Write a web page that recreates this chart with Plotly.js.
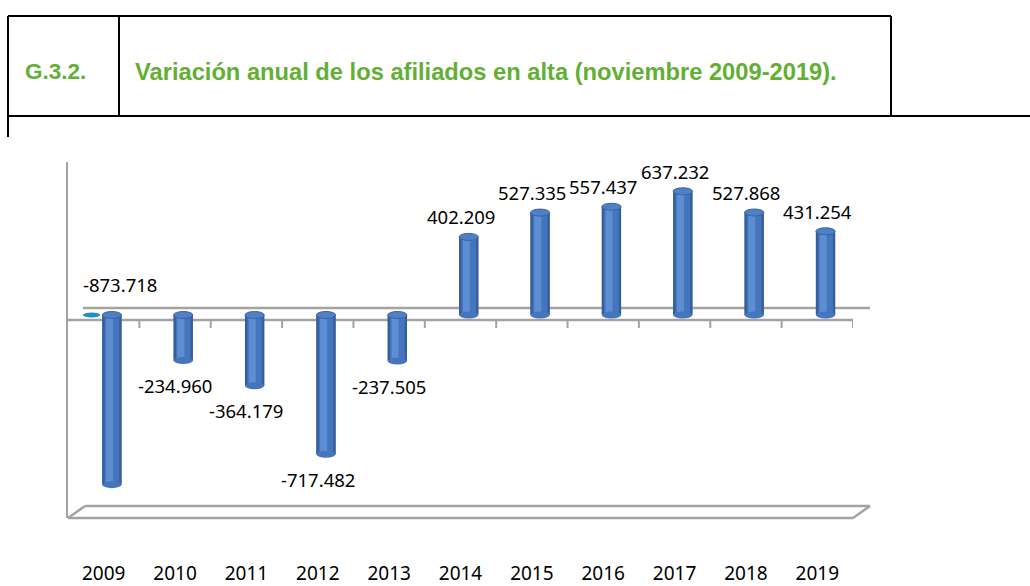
<!DOCTYPE html>
<html>
<head>
<meta charset="utf-8">
<script src="https://cdn.plot.ly/plotly-3.0.1.min.js"></script>
<style>
  html, body { margin: 0; padding: 0; background: #ffffff; }
  #chart { width: 1030px; height: 586px; }
</style>
</head>
<body>
<div id="chart"></div>
<script>
// ---- data ----
const years = ['2009','2010','2011','2012','2013','2014','2015','2016','2017','2018','2019'];
const variacion = [-873718, -234960, -364179, -717482, -237505, 402209, 527335, 557437, 637232, 527868, 431254];
const chartCode = 'G.3.2.';
const chartTitle = 'Variación anual de los afiliados en alta (noviembre 2009-2019).';

// ---- layout geometry (pixels) ----
const W = 1030, H = 586;
const X0 = 68, X1 = 853, Y0 = 162, Y1 = 518;
const yMax = 787950, yMin = -1045450;
const px = p => (p - X0) / (X1 - X0);
const py = p => (Y1 - p) / (Y1 - Y0);
const zeroPx = Y0 + (yMax / (yMax - yMin)) * (Y1 - Y0);

const xs = years.map((_, i) => i);
const barW = 0.27, barOff = -0.02;       // bar drawn slightly "behind" the front axis (3D depth)
const barCenter = i => i + barOff + barW / 2;

const baseCol = '#4576BC', hiCol = '#5D8ED4', edgeCol = '#365E9E', capCol = '#4F80C6', capLine = '#3A63A3';
const frameCol = '#A3A3A3';

const traces = [
  { type: 'bar', x: xs, y: variacion, width: barW, offset: barOff,
    marker: { color: baseCol, line: { width: 0 } }, hoverinfo: 'skip', showlegend: false },
  { type: 'bar', x: xs, y: variacion, width: barW * 0.12, offset: barOff,
    marker: { color: edgeCol, line: { width: 0 } }, hoverinfo: 'skip', showlegend: false },
  { type: 'bar', x: xs, y: variacion, width: barW * 0.36, offset: barOff + barW * 0.2,
    marker: { color: hiCol, line: { width: 0 } }, hoverinfo: 'skip', showlegend: false },
  { type: 'bar', x: xs, y: variacion, width: barW * 0.12, offset: barOff + barW * 0.88,
    marker: { color: edgeCol, line: { width: 0 } }, hoverinfo: 'skip', showlegend: false }
];

const shapes = [];
const line = (x0, y0, x1, y1, col, w) => shapes.push({
  type: 'line', xref: 'paper', yref: 'paper', x0: px(x0), y0: py(y0), x1: px(x1), y1: py(y1),
  line: { color: col, width: w }, layer: 'below' });

// 3D frame: back wall baseline, floor
line(83, zeroPx - 7, 870, zeroPx - 7, frameCol, 2.5);
line(68, 518, 853, 518, frameCol, 2.5);
line(85, 506, 870, 506, frameCol, 2.5);
line(68, 518, 85, 506, frameCol, 2.5);
line(853, 518, 870, 506, frameCol, 2.5);
// front category axis with ticks at boundaries
line(68, zeroPx + 5, 853, zeroPx + 5, frameCol, 2.5);
for (let k = 1; k <= years.length; k++) {
  shapes.push({ type: 'line', xref: 'x', yref: 'paper', x0: k - 0.5, x1: k - 0.5,
    y0: py(zeroPx + 5), y1: py(zeroPx + 13), line: { color: frameCol, width: 2 } });
}

// small flat disc of the second (zero) series next to 2009
shapes.push({ type: 'circle', xref: 'x', yref: 'y', ysizemode: 'pixel', yanchor: 0,
  x0: -0.29, x1: -0.05, y0: -2.5, y1: 2.5, fillcolor: '#2090C0', line: { width: 0 } });

// cylinder caps
variacion.forEach((v, i) => {
  const c = barCenter(i);
  const top = Math.max(v, 0), bot = Math.min(v, 0);
  shapes.push({ type: 'circle', xref: 'x', yref: 'y', ysizemode: 'pixel', yanchor: bot,
    x0: c - barW / 2, x1: c + barW / 2, y0: -3.5, y1: 3.5, fillcolor: baseCol, line: { width: 0 }, layer: 'above' });
  shapes.push({ type: 'circle', xref: 'x', yref: 'y', ysizemode: 'pixel', yanchor: top,
    x0: c - barW / 2, x1: c + barW / 2, y0: -3.5, y1: 3.5, fillcolor: capCol,
    line: { color: capLine, width: 1 }, layer: 'above' });
});

// header table
const hdr = (x0, y0, x1, y1) => shapes.push({
  type: 'line', xref: 'paper', yref: 'paper', x0: px(x0), y0: py(y0), x1: px(x1), y1: py(y1),
  line: { color: '#000000', width: 2 } });
hdr(8, 16, 891, 16);
hdr(8, 116, 1030, 116);
hdr(8, 16, 8, 137);
hdr(119, 16, 119, 116);
hdr(891, 16, 891, 116);

// value labels
const fmt = v => (v < 0 ? '-' : '') + String(Math.abs(v)).replace(/\B(?=(\d{3})+(?!\d))/g, '.');
const minV = Math.min(...variacion);
const labelFont = { family: 'Noto Sans', size: 18.5, color: '#000' };
const annotations = variacion.map((v, i) => {
  if (v === minV) {
    return { x: i, y: 0, xref: 'x', yref: 'y', text: fmt(v), showarrow: false,
      xshift: 16, yshift: 31, font: labelFont };
  }
  return { x: i, y: v, xref: 'x', yref: 'y', text: fmt(v), showarrow: false,
    yshift: v >= 0 ? 20 : -25, font: labelFont };
});
const green = '#62AF34';
annotations.push({ xref: 'paper', yref: 'paper', x: px(23), y: py(72), xanchor: 'left', yanchor: 'middle',
  text: '<b>' + chartCode + '</b>', showarrow: false, font: { family: 'Liberation Sans', size: 22.5, color: green } });
annotations.push({ xref: 'paper', yref: 'paper', x: px(133), y: py(72), xanchor: 'left', yanchor: 'middle',
  text: '<b>' + chartTitle + '</b>', showarrow: false, font: { family: 'Liberation Sans', size: 23.7, color: green } });

const layout = {
  width: W, height: H,
  margin: { l: X0, r: W - X1, t: Y0, b: H - Y1, pad: 0 },
  paper_bgcolor: '#ffffff', plot_bgcolor: 'rgba(0,0,0,0)',
  barmode: 'overlay', showlegend: false,
  xaxis: { range: [-0.5, years.length - 0.5], tickmode: 'array', tickvals: xs, ticktext: years,
    showgrid: false, zeroline: false, showline: false, ticks: '',
    ticklabelstandoff: 42, tickfont: { family: 'Noto Sans', size: 19, color: '#000' } },
  yaxis: { range: [yMin, yMax], showgrid: false, zeroline: false, showticklabels: false, ticks: '',
    showline: true, linecolor: frameCol, linewidth: 2.5 },
  shapes: shapes, annotations: annotations
};

Plotly.newPlot('chart', traces, layout, { displayModeBar: false, staticPlot: true });
</script>
</body>
</html>
